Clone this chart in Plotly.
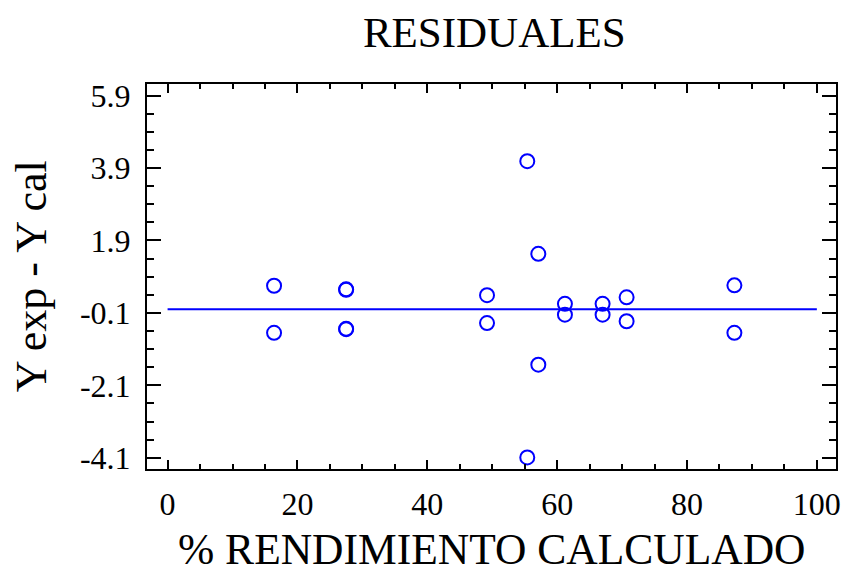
import plotly.graph_objects as go

# Data
x_calc = [16.4, 16.4, 27.5, 27.5, 27.5, 27.5, 49.2, 49.2, 55.4, 55.4,
          57.1, 57.1, 61.2, 61.2, 67.0, 67.0, 70.7, 70.7, 87.3, 87.3]
resid = [0.65, -0.65, 0.54, -0.54, 0.55, -0.55, 0.39, -0.38, 4.09, -4.09,
         1.53, -1.53, 0.15, -0.15, 0.15, -0.15, 0.33, -0.33, 0.66, -0.65]
ref_x = [0, 100]
ref_y = [0, 0]
y_ticks = [-4.1, -2.1, -0.1, 1.9, 3.9, 5.9]
x_ticks = [0, 20, 40, 60, 80, 100]

FONT = "Liberation Serif"
BLUE = "#0000FF"

fig = go.Figure()
fig.add_trace(go.Scatter(x=ref_x, y=ref_y, mode="lines",
                         line=dict(color=BLUE, width=2), hoverinfo="skip",
                         showlegend=False))
fig.add_trace(go.Scatter(x=x_calc, y=resid, mode="markers",
                         marker=dict(symbol="circle-open", size=14,
                                     color=BLUE, line=dict(width=2, color=BLUE)),
                         showlegend=False))

fig.update_layout(
    width=850, height=574,
    margin=dict(l=147, r=9, t=84, b=105),
    paper_bgcolor="white", plot_bgcolor="white",
    font=dict(family=FONT, color="black"),
    title=dict(text="RESIDUALES", x=0.5815, xanchor="center",
               y=1 - 32 / 574, yanchor="middle", yref="container",
               font=dict(family=FONT, size=43, color="black")),
    xaxis=dict(range=[-3.17, 102.95], tickmode="array", tickvals=x_ticks,
               ticktext=[str(v) for v in x_ticks],
               ticks="inside", ticklen=9, tickwidth=2, tickcolor="black",
               showline=True, linewidth=2, linecolor="black", mirror="allticks",
               showgrid=False, zeroline=False,
               tickfont=dict(family=FONT, size=32, color="black"),
               ticklabelstandoff=6,
               minor=dict(ticks="inside", ticklen=5, tickwidth=2, dtick=5,
                          tick0=0, tickcolor="black", showgrid=False)),
    yaxis=dict(range=[-4.41, 6.22], tickmode="array", tickvals=y_ticks,
               ticktext=[f"{v:.1f}" for v in y_ticks],
               ticks="inside", ticklen=14, tickwidth=2, tickcolor="black",
               showline=True, linewidth=2, linecolor="black", mirror="allticks",
               showgrid=False, zeroline=False,
               tickfont=dict(family=FONT, size=32, color="black"),
               ticklabelstandoff=8,
               minor=dict(ticks="inside", ticklen=7, tickwidth=2, dtick=0.5,
                          tick0=-0.1, tickcolor="black", showgrid=False)),
    annotations=[
        dict(text="% RENDIMIENTO CALCULADO", xref="paper", yref="paper",
             x=0.5, y=(469 - 549) / 385, xanchor="center", yanchor="middle",
             showarrow=False, font=dict(family=FONT, size=43.5, color="black")),
        dict(text="Y exp - Y cal", xref="paper", yref="paper",
             x=(31 - 147) / 694, y=0.5, xanchor="center", yanchor="middle",
             textangle=-90, showarrow=False,
             font=dict(family=FONT, size=44, color="black")),
    ],
)

fig.write_html("out.html")
